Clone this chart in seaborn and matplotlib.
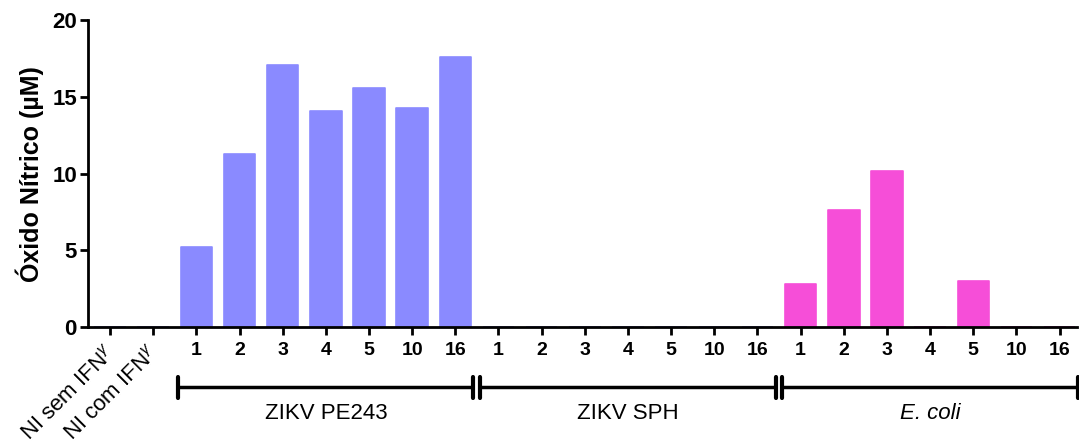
import matplotlib
matplotlib.use("Agg")
import matplotlib.pyplot as plt
import matplotlib.transforms as mtransforms
import seaborn as sns
import pandas as pd

# Nitric oxide production per condition
control_labels = ["NI sem IFN$^{\\gamma}$", "NI com IFN$^{\\gamma}$"]
control_values = [0.0, 0.0]

dose_labels = ["1", "2", "3", "4", "5", "10", "16"]
pe243_values = [5.2, 11.3, 17.05, 14.1, 15.55, 14.25, 17.6]
sph_values = [0.0, 0.0, 0.0, 0.0, 0.0, 0.0, 0.0]
ecoli_values = [2.8, 7.6, 10.2, 0.0, 3.0, 0.0, 0.0]

group_names = ["ZIKV PE243", "ZIKV SPH", "E. coli"]
group_colors = {"NI": "#8A8AFF", "ZIKV PE243": "#8A8AFF",
                "ZIKV SPH": "#8A8AFF", "E. coli": "#F64ED8"}

rows = []
for lab, v in zip(["NI-sem", "NI-com"], control_values):
    rows.append({"cond": lab, "group": "NI", "value": v})
for g, vals in zip(group_names, [pe243_values, sph_values, ecoli_values]):
    for d, v in zip(dose_labels, vals):
        rows.append({"cond": f"{g}-{d}", "group": g, "value": v})
df = pd.DataFrame(rows)

sns.set_style("ticks")
plt.rcParams["font.family"] = ["Liberation Sans", "DejaVu Sans"]
plt.rcParams["mathtext.fontset"] = "custom"
plt.rcParams["mathtext.rm"] = "Liberation Sans"
plt.rcParams["mathtext.it"] = "Liberation Sans:italic"
for key in ["text.color", "axes.labelcolor", "xtick.color", "ytick.color"]:
    plt.rcParams[key] = "black"

fig = plt.figure(figsize=(10.79, 4.48), dpi=100)
ax = fig.add_axes([0.0816, 0.270, 0.9164, 0.685])

sns.barplot(data=df, x="cond", y="value", hue="group", palette=group_colors,
            dodge=False, width=0.73, legend=False, ax=ax,
            linewidth=1.2, saturation=1)
for p in ax.patches:
    p.set_edgecolor(p.get_facecolor())
    p.set_joinstyle("round")

ax.set_ylim(0, 20)
ax.set_xlim(-0.51, 22.4)
ax.set_yticks([0, 5, 10, 15, 20])
ax.set_ylabel("Óxido Nítrico (µM)", fontsize=18, fontweight="bold", labelpad=6)
ax.set_xlabel("")

for s in ["top", "right"]:
    ax.spines[s].set_visible(False)
for s in ["left", "bottom"]:
    ax.spines[s].set_linewidth(2)
    ax.spines[s].set_color("black")
ax.tick_params(axis="both", width=2, length=6, color="black")
ax.tick_params(axis="y", labelsize=16, pad=2)
ax.tick_params(axis="x", labelsize=14, pad=5)
for t in ax.get_yticklabels():
    t.set_fontweight("bold")

xt_labels = control_labels + dose_labels * 3
ax.set_xticks(range(len(xt_labels)))
ax.set_xticklabels(xt_labels)
shift = mtransforms.ScaledTranslation(-6 / 100, 0, fig.dpi_scale_trans)
for i, t in enumerate(ax.get_xticklabels()):
    if i < 2:
        t.set_rotation(45)
        t.set_ha("right")
        t.set_rotation_mode("anchor")
        t.set_fontweight("normal")
        t.set_fontsize(16)
        t.set_transform(t.get_transform() + shift)
    else:
        t.set_fontweight("bold")

# Group brackets under the dose ticks
trans = mtransforms.blended_transform_factory(ax.transData, ax.transAxes)
y_line = -0.197
cap = 0.034
for gi, g in enumerate(group_names):
    start = 2 + gi * 7
    end = start + 6
    x0, x1 = start - 0.42, end + 0.42
    ax.plot([x0, x1], [y_line, y_line], color="black", lw=2.5,
            transform=trans, clip_on=False, solid_capstyle="butt")
    for xe in (x0, x1):
        ax.plot([xe, xe], [y_line - cap, y_line + cap], color="black", lw=3,
                transform=trans, clip_on=False, solid_capstyle="round")
    ax.text((start + end) / 2, -0.283, g, transform=trans, ha="center",
            va="center", fontsize=16,
            fontstyle="italic" if g == "E. coli" else "normal")

fig.savefig("out.png", dpi=100)
